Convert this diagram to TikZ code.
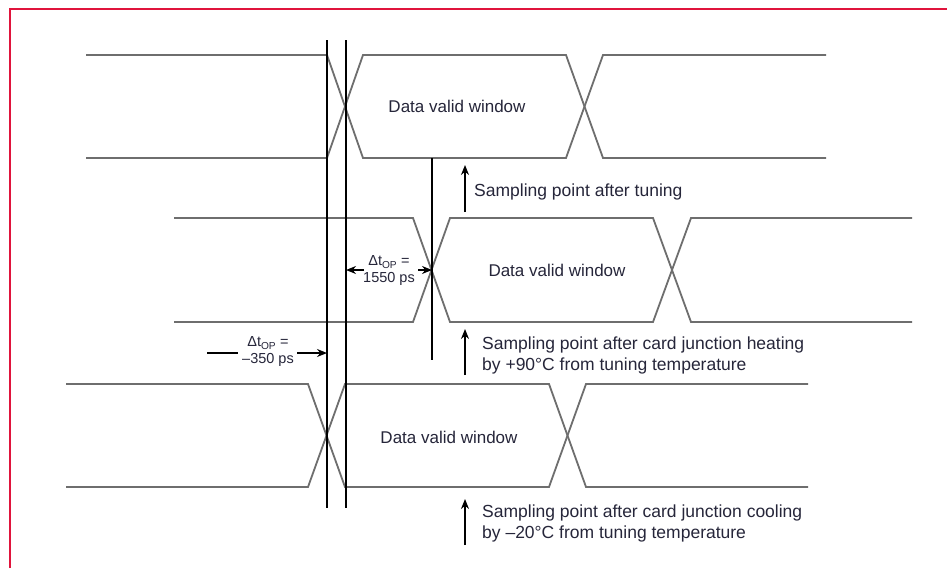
\documentclass[tikz,border=0pt]{standalone}
\usepackage{fontspec}
\setmainfont{Liberation Sans}
\usetikzlibrary{arrows.meta}
\definecolor{wavegray}{HTML}{6E6E6E}
\definecolor{txt}{HTML}{26263A}
\definecolor{frame}{HTML}{E0143C}
\tikzset{
  wave/.style={draw=wavegray, line width=1.8pt, line join=miter},
  vline/.style={draw=black, line width=1.6pt},
  tip/.style={-{Stealth[length=10pt,width=8pt]}, draw=black, line width=1.5pt},
  lbl/.style={text=txt, font=\fontsize{17}{20}\selectfont, inner sep=0pt},
  dlbl/.style={text=txt, font=\fontsize{14.5}{17}\selectfont, inner sep=0pt, align=center},
  note/.style={text=txt, font=\fontsize{17.5}{21}\selectfont, inner sep=0pt, anchor=west, align=left},
}
\newcommand{\eyerow}[8]{% L a1 b1 a2 b2 R T B
  \draw[wave] (#1,#7) -- (#2,#7) -- (#3,#8) -- (#4,#8) -- (#5,#7) -- (#6,#7);
  \draw[wave] (#1,#8) -- (#2,#8) -- (#3,#7) -- (#4,#7) -- (#5,#8) -- (#6,#8);
}
\begin{document}
\begin{tikzpicture}[x=1pt,y=-1pt]
\useasboundingbox (0,0) rectangle (947,568);
\fill[white] (0,0) rectangle (947,568);
% frame (top and left visible)
\draw[frame, line width=2pt] (10,568) -- (10,9) -- (947,9);

% eye rows
\eyerow{86}{327}{363}{566}{603}{826}{55}{158}
\eyerow{174}{413}{450}{653}{691}{912}{218}{322}
\eyerow{66}{308}{345}{549}{586}{808}{384}{487}

\node[lbl] (w1) at (457,106) {Data valid window};
\node[lbl] (w2) at (557,270) {Data valid window};
\node[lbl] (w3) at (449,437) {Data valid window};

% reference vertical lines
\coordinate (v1t) at (327,40); \coordinate (v1b) at (327,508);
\coordinate (v2t) at (346,40); \coordinate (v2b) at (346,508);
\draw[vline] (v1t) -- (v1b);
\draw[vline] (v2t) -- (v2b);
\coordinate (s1t) at (432,158); \coordinate (s1b) at (432,360);
\draw[vline] (s1t) -- (s1b);

% delta t = 1550 ps
\node[dlbl] (d1) at (389,271) {Δt\textsubscript{OP} =\\1550 ps};
\coordinate (d1l) at (346,270); \coordinate (d1r) at (432,270);
\coordinate (d1a) at (364,270); \coordinate (d1b) at (418,270);
\draw[tip] (d1a) -- (d1l);
\draw[tip] (d1b) -- (d1r);

% delta t = -350 ps
\node[dlbl] (d2) at (268,352) {Δt\textsubscript{OP} =\\–350 ps};
\coordinate (d2s) at (207,353); \coordinate (d2e) at (238,353);
\coordinate (d2f) at (297,353); \coordinate (d2t) at (327,353);
\draw[black, line width=1.5pt] (d2s) -- (d2e);
\draw[tip] (d2f) -- (d2t);

% sampling points
\coordinate (a1b) at (465,212); \coordinate (a1t) at (465,165);
\draw[tip] (a1b) -- (a1t);
\node[note] (n1) at (474,192) {Sampling point after tuning};

\coordinate (a2b) at (465,375); \coordinate (a2t) at (465,329);
\draw[tip] (a2b) -- (a2t);
\node[note] (n2) at (482,355) {Sampling point after card junction heating\\by +90°C from tuning temperature};

\coordinate (a3b) at (465,545); \coordinate (a3t) at (465,499);
\draw[tip] (a3b) -- (a3t);
\node[note] (n3) at (482,523) {Sampling point after card junction cooling\\by –20°C from tuning temperature};
\end{tikzpicture}
\end{document}
